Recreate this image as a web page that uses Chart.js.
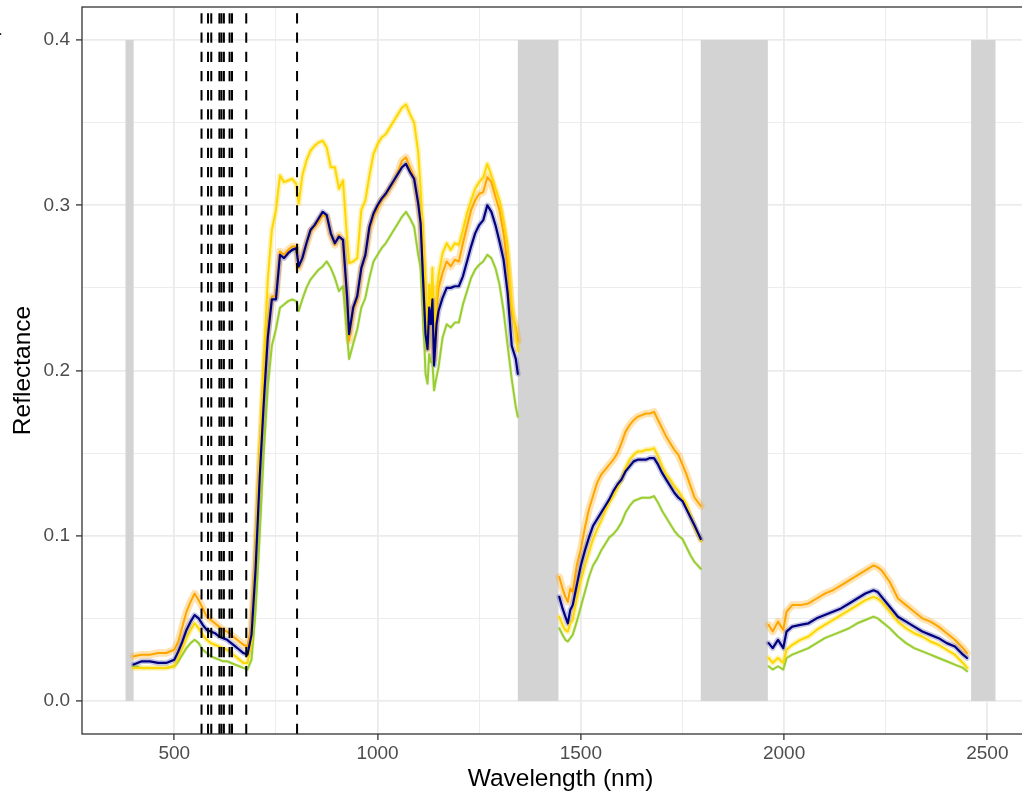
<!DOCTYPE html>
<html lang="en">
  <head>
    <meta charset="UTF-8" />
    <title>Reflectance spectra</title>
    <style>
      html, body { margin: 0; padding: 0; overflow: hidden; background: #fff; }
      #wrap { position: relative; width: 1060px; height: 792px; }
    </style>
  </head>
  <body>
    <div id="wrap"><canvas id="chart-1" width="1060" height="792"></canvas></div>
    <script src="https://cdn.jsdelivr.net/npm/chart.js"></script>
    <script>
      // wavelengths (nm); null rows split the curve at the masked water bands
      const wavelength = [
        400, 420, 440, 460, 480, 500, 510, 520, 530, 540, 550, 560, 570, 580, 590, 600, 610, 620, 630, 640, 650, 660, 670, 680,
        690, 700, 710, 720, 730, 740, 750, 760, 770, 780, 790, 800,
        806, 815, 825, 835, 845, 855, 865, 875, 885, 895, 905, 915, 925, 930,
        940, 950, 960, 970, 980, 990, 1000, 1010, 1020, 1030, 1040, 1050, 1060, 1070, 1080, 1090, 1100,
        1106, 1112, 1118, 1123, 1127, 1131, 1135, 1139, 1145, 1150,
        1160, 1170, 1180, 1190, 1200, 1210, 1220, 1230, 1240, 1250, 1260, 1270, 1280, 1290, 1300, 1310, 1320, 1330, 1340,
        1345,
        1400,
        1447, 1455, 1462, 1468, 1474, 1480,
        1490, 1500, 1510, 1520, 1530, 1540, 1550, 1560, 1570, 1580, 1590, 1600, 1610, 1620, 1630, 1640, 1650, 1660, 1670, 1680,
        1690, 1700, 1710, 1720, 1730, 1740, 1750, 1760, 1770, 1780,
        1795,
        1880,
        1962, 1972, 1985, 1998, 2006, 2020,
        2040, 2060, 2080, 2100, 2120, 2140, 2160, 2180, 2200, 2220,
        2230, 2240,
        2260, 2280, 2300, 2320, 2340, 2360, 2380, 2400, 2420, 2440,
        2450
      ];

      const orangeVals = [
        .027, .028, .028, .029, .029, .031, .036, .045, .054, .060, .065, .061, .056, .051, .049, .047, .045, .043, .042, .040, .038, .036, .034, .033,
        .045, .085, .140, .185, .225, .245, .245, .272, .270, .273, .275, .275,
        .262, .268, .276, .284, .287, .290, .294, .293, .282, .276, .282, .278, .240, .218,
        .236, .243, .261, .270, .285, .293, .298, .303, .306, .310, .314, .320, .327, .329, .323, .317, .302,
        .290, .262, .225, .213, .245, .232, .250, .207, .238, .250,
        .259, .266, .263, .267, .266, .277, .287, .297, .303, .307, .308, .317, .314, .305, .297, .283, .263, .235, .226,
        .218,
        null,
        .075, .068, .063, .060, .068, .066,
        .082, .092, .105, .116, .124, .132, .137, .140, .143, .146, .150, .156, .163, .167, .170, .172, .173, .174, .174, .175,
        .170, .165, .160, .156, .152, .149, .143, .137, .130, .123,
        .118,
        null,
        .046, .042, .048, .043, .054, .058,
        .058, .059, .062, .065, .067, .070, .073, .076, .079, .082,
        .081, .079,
        .072, .062, .058, .054, .050, .048, .045, .041, .037, .032,
        .029
      ];

      const navyVals = [
        .022, .024, .024, .023, .023, .025, .030, .036, .043, .048, .052, .050, .046, .043, .042, .041, .039, .038, .037, .035, .033, .031, .029, .028,
        .040, .080, .135, .180, .220, .243, .243, .270, .268, .271, .273, .274,
        .263, .268, .277, .285, .288, .292, .296, .294, .283, .277, .281, .279, .245, .222,
        .238, .245, .262, .270, .287, .295, .300, .304, .307, .311, .315, .319, .323, .325, .320, .316, .301,
        .289, .255, .222, .213, .238, .228, .243, .203, .228, .236,
        .244, .250, .250, .251, .251, .257, .266, .275, .283, .288, .291, .300, .296, .288, .278, .267, .247, .215, .207,
        .198,
        null,
        .063, .056, .051, .047, .055, .058,
        .070, .082, .091, .099, .106, .110, .114, .118, .122, .127, .131, .134, .139, .142, .145, .146, .146, .146, .147, .147,
        .143, .138, .134, .130, .126, .123, .121, .116, .111, .106,
        .098,
        null,
        .035, .032, .037, .032, .042, .045,
        .046, .047, .050, .052, .054, .056, .059, .062, .065, .067,
        .066, .063,
        .057, .051, .048, .045, .042, .040, .038, .035, .033, .028,
        .026
      ];

      const goldVals = [
        .020, .020, .020, .020, .020, .021, .026, .032, .038, .043, .047, .044, .040, .037, .035, .034, .033, .032, .031, .029, .027, .025, .023, .023,
        .035, .085, .150, .205, .255, .285, .297, .318, .314, .315, .316, .313,
        .301, .318, .327, .333, .336, .338, .339, .335, .323, .323, .310, .315, .280, .265,
        .266, .268, .297, .303, .318, .331, .337, .341, .343, .347, .351, .355, .359, .361, .355, .350, .332,
        .310, .280, .252, .214, .252, .235, .262, .214, .245, .258,
        .271, .277, .273, .277, .276, .285, .295, .303, .310, .314, .317, .325, .318, .310, .303, .290, .275, .240, .223,
        .212,
        null,
        .051, .046, .043, .042, .047, .049,
        .062, .073, .082, .090, .098, .104, .109, .115, .120, .124, .129, .134, .141, .146, .149, .151, .151, .152, .152, .153,
        .148, .142, .137, .134, .130, .127, .123, .119, .112, .105,
        .097,
        null,
        .026, .023, .026, .023, .031, .034,
        .037, .039, .043, .046, .049, .052, .055, .058, .061, .063,
        .062, .060,
        .054, .048, .044, .041, .039, .036, .034, .031, .028, .023,
        .020
      ];

      const greenVals = [
        .021, .020, .020, .020, .020, .021, .024, .028, .032, .035, .037, .035, .031, .029, .027, .026, .025, .024, .024, .023, .022, .021, .020, .019,
        .025, .055, .100, .150, .190, .215, .225, .238, .240, .242, .243, .242,
        .236, .243, .250, .255, .258, .261, .263, .266, .262, .256, .248, .251, .222, .207,
        .216, .225, .238, .244, .256, .266, .270, .274, .277, .281, .285, .289, .293, .296, .292, .287, .270,
        .262, .235, .198, .192, .210, .205, .205, .188, .196, .202,
        .220, .228, .226, .229, .229, .240, .248, .256, .261, .264, .266, .270, .268, .262, .252, .236, .215, .195, .178,
        .172,
        null,
        .044, .040, .037, .036, .038, .040,
        .048, .057, .066, .075, .082, .086, .091, .095, .099, .101, .104, .108, .114, .118, .121, .122, .123, .123, .123, .124,
        .120, .115, .111, .107, .103, .100, .098, .093, .088, .084,
        .080,
        null,
        .021, .019, .021, .019, .026, .028,
        .030, .032, .035, .038, .040, .042, .044, .047, .049, .051,
        .050, .048,
        .044, .039, .035, .032, .030, .028, .026, .024, .022, .020,
        .018
      ];

      // masked (grey) wavelength ranges and dashed reference wavelengths
      const maskedBands = [[380, 400], [1345, 1445], [1795, 1960], [2460, 2520]];
      const bandLines = [567, 583, 591, 611, 616, 622, 636, 642, 677, 802];

      const xTicks = [500, 1000, 1500, 2000, 2500];
      const xMinor = [750, 1250, 1750, 2250];
      const yTicks = [0, 0.1, 0.2, 0.3, 0.4];
      const yMinor = [0.05, 0.15, 0.25, 0.35];

      Chart.defaults.font.family = "'Liberation Sans', Arial, sans-serif";

      const toPoints = (vals) => wavelength.map((w, i) => ({ x: w, y: vals[i] }));

      const line = (vals, color, width, order) => ({
        data: toPoints(vals),
        borderColor: color,
        borderWidth: width,
        pointRadius: 0,
        tension: 0,
        spanGaps: false,
        borderJoinStyle: "round",
        borderCapStyle: "round",
        order: order,
      });

      const noPad = (s) => {
        s.paddingTop = 0;
        s.paddingBottom = 0;
        s.paddingLeft = 0;
        s.paddingRight = 0;
      };

      const panelPlugin = {
        id: "panel",
        beforeDatasetsDraw(chart) {
          const { ctx, scales: { x, y } } = chart;
          ctx.save();
          ctx.fillStyle = "#D3D3D3";
          const yTop = y.getPixelForValue(yTicks[yTicks.length - 1]);
          const yBot = y.getPixelForValue(yTicks[0]);
          maskedBands.forEach(([a, b]) => {
            const x1 = x.getPixelForValue(a);
            const x2 = x.getPixelForValue(b);
            ctx.fillRect(x1, yTop, x2 - x1, yBot - yTop);
          });
          ctx.restore();
        },
        afterDatasetsDraw(chart) {
          const { ctx, chartArea, scales: { x } } = chart;
          ctx.save();
          ctx.strokeStyle = "#000000";
          ctx.lineWidth = 2;
          ctx.setLineDash([10.3, 8.9]);
          bandLines.forEach((w) => {
            const px = x.getPixelForValue(w);
            ctx.beginPath();
            ctx.moveTo(px, chartArea.bottom);
            ctx.lineTo(px, chartArea.top);
            ctx.stroke();
          });
          ctx.setLineDash([]);
          ctx.strokeStyle = "#333333";
          ctx.lineWidth = 1.3;
          ctx.strokeRect(chartArea.left, chartArea.top, chartArea.right - chartArea.left, chartArea.bottom - chartArea.top);
          ctx.restore();
        },
        afterDraw(chart) {
          // panel tag, mostly cut off at the left edge
          const ctx = chart.ctx;
          ctx.save();
          ctx.fillStyle = "#000";
          ctx.font = "bold 20px 'Liberation Sans', Arial, sans-serif";
          ctx.textAlign = "right";
          ctx.fillText("a", 1.2, 35);
          ctx.restore();
        },
      };

      const isMajorX = (v) => xTicks.includes(v);
      const isMajorY = (v) => yTicks.some((t) => Math.abs(t - v) < 1e-9);

      new Chart(document.getElementById("chart-1"), {
        type: "line",
        data: {
          datasets: [
            line(navyVals, "#000080", 2.2, 1),
            line(goldVals, "#FFD700", 2, 2),
            line(orangeVals, "#FFA500", 2, 3),
            line(greenVals, "#9ACD32", 2, 4),
            line(navyVals, "rgba(0,0,128,0.22)", 5.5, 5),
            line(goldVals, "rgba(255,215,0,0.3)", 5.5, 6),
            line(orangeVals, "rgba(255,165,0,0.3)", 7.5, 7),
            line(greenVals, "rgba(154,205,50,0.2)", 3.5, 8),
          ],
        },
        options: {
          responsive: false,
          animation: false,
          layout: { padding: { left: 0, top: 7, right: 21, bottom: 0 } },
          plugins: { legend: { display: false }, tooltip: { enabled: false } },
          scales: {
            x: {
              type: "linear",
              min: 273,
              max: 2627,
              afterBuildTicks: (s) => {
                s.ticks = xTicks.concat(xMinor).sort((a, b) => a - b).map((v) => ({ value: v }));
              },
              afterFit: (s) => { s.height = 58; noPad(s); },
              ticks: {
                autoSkip: false,
                maxRotation: 0,
                padding: 2,
                color: "#4D4D4D",
                font: { size: 19 },
                callback: (v) => (isMajorX(v) ? String(v) : ""),
              },
              grid: {
                color: "#EBEBEB",
                lineWidth: (c) => (c.tick && isMajorX(c.tick.value) ? 1.8 : 0.9),
                tickColor: (c) => (c.tick && isMajorX(c.tick.value) ? "#333333" : "rgba(0,0,0,0)"),
                tickWidth: 1.3,
                tickLength: 6,
              },
              border: { display: false },
              title: {
                display: true,
                text: "Wavelength (nm)",
                color: "#000",
                font: { size: 24.5, lineHeight: 1.06 },
                padding: { top: 0, bottom: 0 },
              },
            },
            y: {
              min: -0.02,
              max: 0.42,
              afterBuildTicks: (s) => {
                s.ticks = yTicks.concat(yMinor).sort((a, b) => a - b).map((v) => ({ value: v }));
              },
              afterFit: (s) => { s.width = 82; noPad(s); },
              ticks: {
                autoSkip: false,
                padding: 6,
                color: "#4D4D4D",
                font: { size: 19 },
                callback: (v) => (isMajorY(v) ? v.toFixed(1) : ""),
              },
              grid: {
                color: "#EBEBEB",
                lineWidth: (c) => (c.tick && isMajorY(c.tick.value) ? 1.8 : 0.9),
                tickColor: (c) => (c.tick && isMajorY(c.tick.value) ? "#333333" : "rgba(0,0,0,0)"),
                tickWidth: 1.3,
                tickLength: 6,
              },
              border: { display: false },
              title: {
                display: true,
                text: "Reflectance",
                color: "#000",
                font: { size: 24.5, lineHeight: 1.2 },
                padding: { top: 9, bottom: 0 },
              },
            },
          },
        },
        plugins: [panelPlugin],
      });
    </script>
  </body>
</html>
